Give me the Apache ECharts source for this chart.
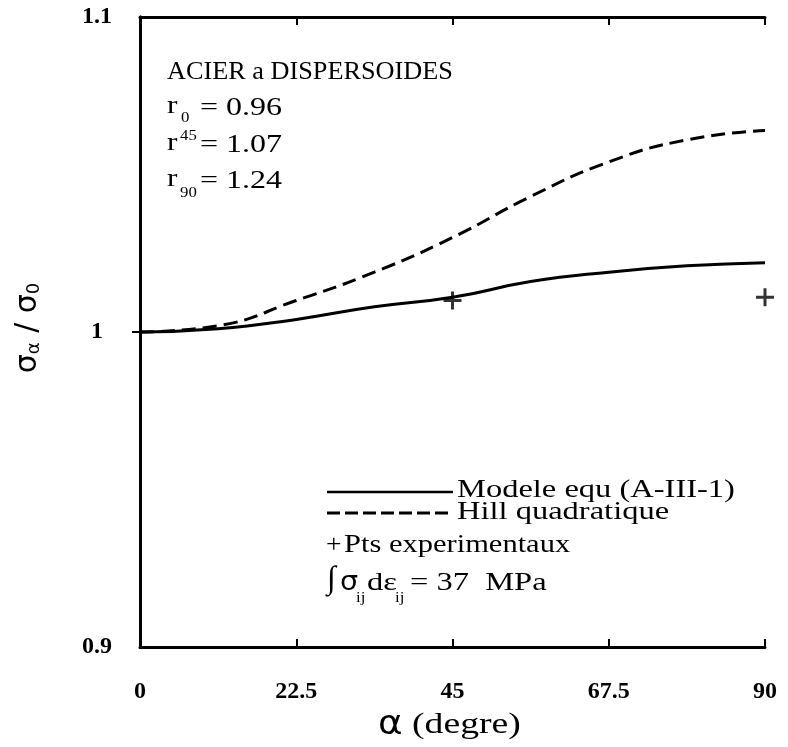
<!DOCTYPE html>
<html><head><meta charset="utf-8">
<script src="https://cdn.jsdelivr.net/npm/echarts@6/dist/echarts.min.js"></script>
<style>html,body{margin:0;background:#fff}#c{width:788px;height:747px}</style>
</head><body><div id="c"></div>
<script>
// Normalised yield stress vs. loading direction for a dispersoid-strengthened steel
const angles = [0, 11.25, 22.5, 33.75, 45, 56.25, 67.5, 78.75, 90];
const modele = [1.000, 1.001, 1.004, 1.008, 1.011, 1.016, 1.019, 1.021, 1.022];
const hill = [1.000, 1.002, 1.010, 1.019, 1.030, 1.043, 1.054, 1.061, 1.064];
const experimental = [[45, 1.010], [90, 1.011]];
const xTicks = [0, 22.5, 45, 67.5, 90];
const yTicks = [0.9, 1, 1.1];

const serif = '"Liberation Serif", "DejaVu Serif", serif';
const sans = '"DejaVu Sans", "Liberation Sans", sans-serif';
const plus = 'path://M0,-1L0,1M-1,0L1,0';

const chart = echarts.init(document.getElementById('c'), null, {renderer: 'canvas'});

// text anchored at its left edge / vertical middle, optionally widened
function t(x, y, text, size, sx, family) {
  return {
    type: 'text', x: x, y: y, scaleX: sx || 1,
    style: {text: text, font: size + 'px ' + (family || serif), fill: '#000',
      align: 'left', verticalAlign: 'middle'}
  };
}

const frameAxis = {
  axisLine: {show: true, lineStyle: {color: '#000', width: 3}},
  splitLine: {show: false}
};
const labelFont = {color: '#000', fontFamily: serif, fontWeight: 'bold', fontSize: 24};

chart.setOption({
  animation: false,
  backgroundColor: '#fff',
  grid: {left: 140, right: 23, top: 17, bottom: 100},
  xAxis: [Object.assign({
    type: 'value', min: xTicks[0], max: xTicks[xTicks.length - 1], interval: 22.5,
    axisTick: {show: true, inside: true, length: 8, lineStyle: {color: '#000', width: 2}},
    axisLabel: Object.assign({margin: 33, formatter: v => String(v)}, labelFont)
  }, frameAxis), Object.assign({
    type: 'value', position: 'top', min: 0, max: 90, interval: 22.5,
    axisTick: {show: true, inside: true, length: 8, lineStyle: {color: '#000', width: 2}},
    axisLabel: {show: false}
  }, frameAxis)],
  yAxis: [Object.assign({
    type: 'value', min: yTicks[0], max: yTicks[yTicks.length - 1], interval: 0.1,
    axisTick: {show: true, length: 8, customValues: [1], lineStyle: {color: '#000', width: 2}},
    axisLabel: Object.assign({margin: 43, align: 'center',
      formatter: v => String(Math.round(v * 10) / 10)}, labelFont)
  }, frameAxis), Object.assign({
    type: 'value', position: 'right', min: 0.9, max: 1.1, interval: 0.1,
    axisTick: {show: false}, axisLabel: {show: false}
  }, frameAxis)],
  series: [{
    name: 'Modele equ (A-III-1)', type: 'line', smooth: true, showSymbol: false,
    data: angles.map((a, i) => [a, modele[i]]),
    lineStyle: {color: '#000', width: 3}
  }, {
    name: 'Hill quadratique', type: 'line', smooth: true, showSymbol: false,
    data: angles.map((a, i) => [a, hill[i]]),
    lineStyle: {color: '#000', width: 3, type: [14, 7]}
  }, {
    name: 'Pts experimentaux', type: 'scatter', symbol: plus, symbolSize: 18,
    data: experimental,
    itemStyle: {color: 'none', borderColor: '#000', borderWidth: 3}
  }],
  graphic: [
    // material annotation
    t(167, 72, 'ACIER a DISPERSOIDES', 25, 1.05),
    t(167, 106, 'r', 26, 1.2), t(181, 118, '0', 14, 1.2), t(200, 108, '= 0.96', 25, 1.28),
    t(167, 143, 'r', 26, 1.2), t(180, 136, '45', 14, 1.2), t(200, 145, '= 1.07', 25, 1.28),
    t(167, 179, 'r', 26, 1.2), t(180, 193, '90', 14, 1.2), t(200, 181, '= 1.24', 25, 1.28),
    // key
    {type: 'line', shape: {x1: 327, y1: 492, x2: 453, y2: 492}, style: {stroke: '#000', lineWidth: 2.5}},
    t(457, 490, 'Modele equ (A-III-1)', 25, 1.3),
    {type: 'line', shape: {x1: 327, y1: 513, x2: 453, y2: 513}, style: {stroke: '#000', lineWidth: 3, lineDash: [13, 5]}},
    t(457, 512, 'Hill quadratique', 25, 1.3),
    t(326, 545, '+', 25, 1.1), t(344, 545, 'Pts experimentaux', 25, 1.22),
    t(327, 580, '\u222B', 32, 1.0),
    t(340, 583, '\u03C3', 26, 1.1, sans),
    t(356, 598, 'ij', 14, 1.2),
    t(367, 583, 'd\u03B5', 26, 1.25),
    t(395, 598, 'ij', 14, 1.2),
    t(410, 583, '= 37  MPa', 26, 1.25),
    // axis titles
    {type: 'text', x: 28, y: 328, rotation: Math.PI / 2,
      style: {text: '{s|\u03C3}{b|\u03B1}{s| / \u03C3}{b|0}', fill: '#000', align: 'center', verticalAlign: 'middle',
        rich: {s: {font: '30px ' + sans, fill: '#000'}, b: {font: '18px ' + sans, fill: '#000', verticalAlign: 'bottom'}}}},
    t(378, 725, '\u03B1', 34, 1.1, sans),
    t(412, 725, '(degre)', 29, 1.3)
  ]
});
</script>
</body></html>
